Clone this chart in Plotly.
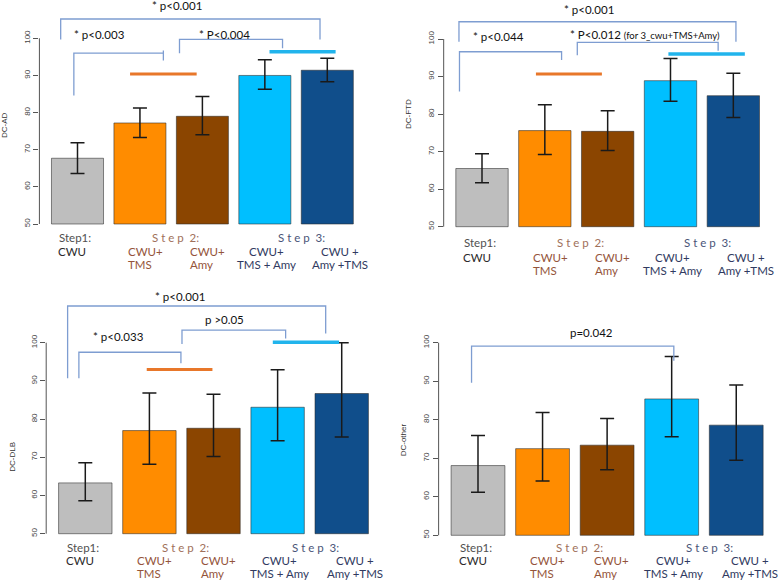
import plotly.graph_objects as go

W, H = 778, 581

# bar positions follow R barplot convention (width 1, space 0.2)
bar_pos = [0.7, 1.9, 3.1, 4.3, 5.5]
bar_colors = ["#BEBEBE", "#FF8C00", "#8B4500", "#00BFFF", "#104E8B"]

ad_mean = [67.7, 77.2, 79.0, 90.0, 91.4]
ad_hi = [71.9, 81.2, 84.3, 94.2, 94.6]
ad_lo = [63.6, 73.3, 74.0, 86.3, 88.3]

ftd_mean = [65.5, 75.6, 75.4, 88.9, 84.9]
ftd_hi = [69.4, 82.5, 80.9, 94.8, 90.9]
ftd_lo = [61.7, 69.2, 70.3, 83.4, 79.1]

dlb_mean = [63.3, 77.0, 77.6, 83.1, 86.7]
dlb_hi = [68.6, 86.8, 86.5, 92.9, 100.0]
dlb_lo = [58.6, 68.2, 70.2, 74.3, 75.3]

other_mean = [68.1, 72.5, 73.4, 85.4, 78.6]
other_hi = [75.9, 81.9, 80.3, 96.4, 89.0]
other_lo = [61.2, 64.1, 67.0, 75.6, 69.5]

y_ticks = [50, 60, 70, 80, 90, 100]

BRACKET = "#7E9DD1"
ORANGE = "#E8772A"
CYAN = "#21B4EC"
BROWN_HEAD = "#A0705A"
BROWN = "#94543A"
NAVY_HEAD = "#4A5578"
NAVY = "#303A60"

panels = [
    dict(title="DC-AD", mean=ad_mean, hi=ad_hi, lo=ad_lo,
         c0=77.5, unit=52.04, py50=224.0, py100=38.3, ytop=110,
         title_px=(5, 125), label_py=(237, 251, 264),
         brackets=[[(0.377, 99.7), (0.377, 105.2), (5.36, 105.2), (5.36, 99.7)],
                   [(0.63, 84.6), (0.63, 96.0), (2.35, 96.0)],
                   [(2.35, 96.7), (2.35, 94.0)],
                   [(2.66, 96.0), (2.66, 99.7), (4.64, 99.7), (4.64, 97.3)]],
         texts=[("* p<0.001", 2.61, 108.7, "center"),
                ("* p<0.003", 1.12, 101.1, "center"),
                ("* P<0.004", 3.52, 101.1, "center")],
         orange=(1.71, 2.99, 90.4), cyan=(4.39, 5.66, 96.4)),
    dict(title="DC-FTD", mean=ftd_mean, hi=ftd_hi, lo=ftd_lo,
         c0=482.0, unit=52.36, py50=226.7, py100=39.0, ytop=110,
         title_px=(408, 114), label_py=(243, 257, 270),
         brackets=[[(0.26, 99.3), (0.26, 104.6), (5.55, 104.6), (5.55, 99.3)],
                   [(0.27, 86.0), (0.27, 96.6), (2.22, 96.6), (2.22, 94.4)],
                   [(2.52, 95.7), (2.52, 99.1), (5.21, 99.1), (5.21, 96.9)]],
         texts=[("* p<0.001", 2.75, 107.9, "center"),
                ("* p<0.044", 1.01, 100.6, "center"),
                ("* P<0.012 <span style='font-size:9.5px'>(for 3_cwu+TMS+Amy)</span>",
                 2.35, 101.1, "left")],
         orange=(1.73, 2.99, 90.7), cyan=(4.26, 5.72, 96.0)),
    dict(title="DC-DLB", mean=dlb_mean, hi=dlb_hi, lo=dlb_lo,
         c0=85.3, unit=53.42, py50=533.7, py100=342.7, ytop=113.3,
         title_px=(11.7, 457), label_py=(547, 560, 573),
         brackets=[[(0.369, 90.7), (0.369, 109.6), (5.20, 109.6), (5.20, 102.4)],
                   [(0.58, 90.7), (0.58, 97.5), (2.49, 97.5), (2.49, 94.6)],
                   [(2.51, 99.65), (2.51, 103.3), (4.45, 103.3), (4.45, 101.1)]],
         texts=[("* p<0.001", 2.47, 112.2, "center"),
                ("* p<0.033", 1.32, 101.7, "center"),
                ("p >0.05", 3.30, 106.1, "center")],
         orange=(1.85, 3.08, 93.0), cyan=(4.21, 5.45, 100.1)),
    dict(title="DC-other", mean=other_mean, hi=other_hi, lo=other_lo,
         c0=478.0, unit=53.8, py50=535.3, py100=342.7, ytop=113,
         title_px=(403.3, 440), label_py=(547, 560, 573),
         brackets=[[(0.58, 89.6), (0.58, 99.1), (4.34, 99.1), (4.34, 95.3)]],
         texts=[("p=0.042", 2.81, 102.6, "center")],
         orange=None, cyan=None),
]

step_heads = [("Step1:", 0.66, "#505050"),
              ("S\u00a0t\u00a0e\u00a0p\u00a0\u00a02:", 2.58, BROWN_HEAD),
              ("S\u00a0t\u00a0e\u00a0p\u00a0\u00a03:", 5.0, NAVY_HEAD)]
label_line2 = [("CWU", 0.6, "center", "#2a2a2a"), ("CWU+", 1.63, "left", BROWN),
               ("CWU+", 2.82, "left", BROWN), ("CWU+", 4.34, "center", NAVY),
               ("CWU +", 5.75, "center", NAVY)]
label_line3 = [("TMS", 1.63, "left", BROWN), ("Amy", 2.82, "left", BROWN),
               ("TMS + Amy", 4.34, "center", NAVY), ("Amy +TMS", 5.75, "center", NAVY)]

XR = (-0.032, 6.232)
YBOT = 47.5


def x_domain(c0, unit):
    a = c0 + (XR[0] - 0.7) * unit
    b = c0 + (XR[1] - 0.7) * unit
    return [a / W, b / W]


def y_domain(py50, py100, ytop):
    k = (py50 - py100) / 50
    top = py50 - (ytop - 50) * k
    bot = py50 + (50 - YBOT) * k
    return [1 - bot / H, 1 - top / H]


def svg_path(points):
    return "M " + " L ".join(f"{x},{y}" for x, y in points)


fig = go.Figure()
shapes, annotations = [], []
layout = {}
label_font = dict(family="Lato", size=11.5)

for i, p in enumerate(panels, start=1):
    sfx = "" if i == 1 else str(i)
    xr, yr = "x" + sfx, "y" + sfx

    fig.add_trace(go.Bar(
        x=bar_pos, y=[m - 50 for m in p["mean"]], base=50, width=1,
        marker=dict(color=bar_colors, line=dict(color="rgba(40,40,40,0.55)", width=1)),
        xaxis=xr, yaxis=yr, hoverinfo="skip", showlegend=False))
    fig.add_trace(go.Scatter(
        x=bar_pos, y=p["mean"], mode="markers", marker=dict(size=1, opacity=0),
        error_y=dict(type="data", symmetric=False,
                     array=[h - m for h, m in zip(p["hi"], p["mean"])],
                     arrayminus=[m - l for m, l in zip(p["mean"], p["lo"])],
                     color="#1a1a1a", thickness=1.5, width=7),
        xaxis=xr, yaxis=yr, hoverinfo="skip", showlegend=False))

    layout["xaxis" + sfx] = dict(domain=x_domain(p["c0"], p["unit"]), range=list(XR),
                                 anchor=yr, showgrid=False, zeroline=False,
                                 showticklabels=False, ticks="", showline=False)
    layout["yaxis" + sfx] = dict(domain=y_domain(p["py50"], p["py100"], p["ytop"]),
                                 range=[YBOT, p["ytop"]], anchor=xr,
                                 tickvals=y_ticks, ticks="outside", ticklen=5,
                                 tickcolor="#555", tickwidth=1, tickangle=-90,
                                 tickfont=dict(family="Liberation Sans", size=8, color="#444"),
                                 showgrid=False, zeroline=False, showline=False)

    # R-style axis line from 50 to 100
    shapes.append(dict(type="line", xref=xr + " domain", yref=yr, x0=0, x1=0,
                       y0=50, y1=100, line=dict(color="#555", width=1)))

    for pts in p["brackets"]:
        shapes.append(dict(type="path", path=svg_path(pts), xref=xr, yref=yr,
                           line=dict(color=BRACKET, width=1.3)))
    if p["orange"]:
        a, b, yv = p["orange"]
        shapes.append(dict(type="line", xref=xr, yref=yr, x0=a, x1=b, y0=yv, y1=yv,
                           line=dict(color=ORANGE, width=3)))
    if p["cyan"]:
        a, b, yv = p["cyan"]
        shapes.append(dict(type="line", xref=xr, yref=yr, x0=a, x1=b, y0=yv, y1=yv,
                           line=dict(color=CYAN, width=3.5)))

    for txt, xv, yv, anc in p["texts"]:
        annotations.append(dict(text=txt, x=xv, y=yv, xref=xr, yref=yr,
                                xanchor=anc, yanchor="middle", showarrow=False,
                                font=dict(family="Lato", size=11.5, color="#111")))

    tx, ty = p["title_px"]
    annotations.append(dict(text=p["title"], x=tx / W, y=1 - ty / H, xref="paper",
                            yref="paper", textangle=-90, showarrow=False,
                            xanchor="center", yanchor="middle",
                            font=dict(family="Liberation Sans", size=8, color="#333")))

    l1, l2, l3 = p["label_py"]
    for txt, xv, col in step_heads:
        annotations.append(dict(text=txt, x=xv, y=1 - l1 / H, xref=xr, yref="paper",
                                xanchor="center", yanchor="middle", showarrow=False,
                                font=dict(label_font, color=col)))
    for lines, ly in ((label_line2, l2), (label_line3, l3)):
        for txt, xv, anc, col in lines:
            annotations.append(dict(text=txt, x=xv, y=1 - ly / H, xref=xr, yref="paper",
                                    xanchor=anc, yanchor="middle", showarrow=False,
                                    font=dict(label_font, color=col)))

fig.update_layout(
    width=W, height=H, margin=dict(l=0, r=0, t=0, b=0),
    paper_bgcolor="white", plot_bgcolor="white", showlegend=False,
    shapes=shapes, annotations=annotations, **layout)

# drop the default 8px page margin so the figure fills the window
fig.write_html("out.html", config={"displayModeBar": False},
               post_script="document.body.style.margin = '0';")
